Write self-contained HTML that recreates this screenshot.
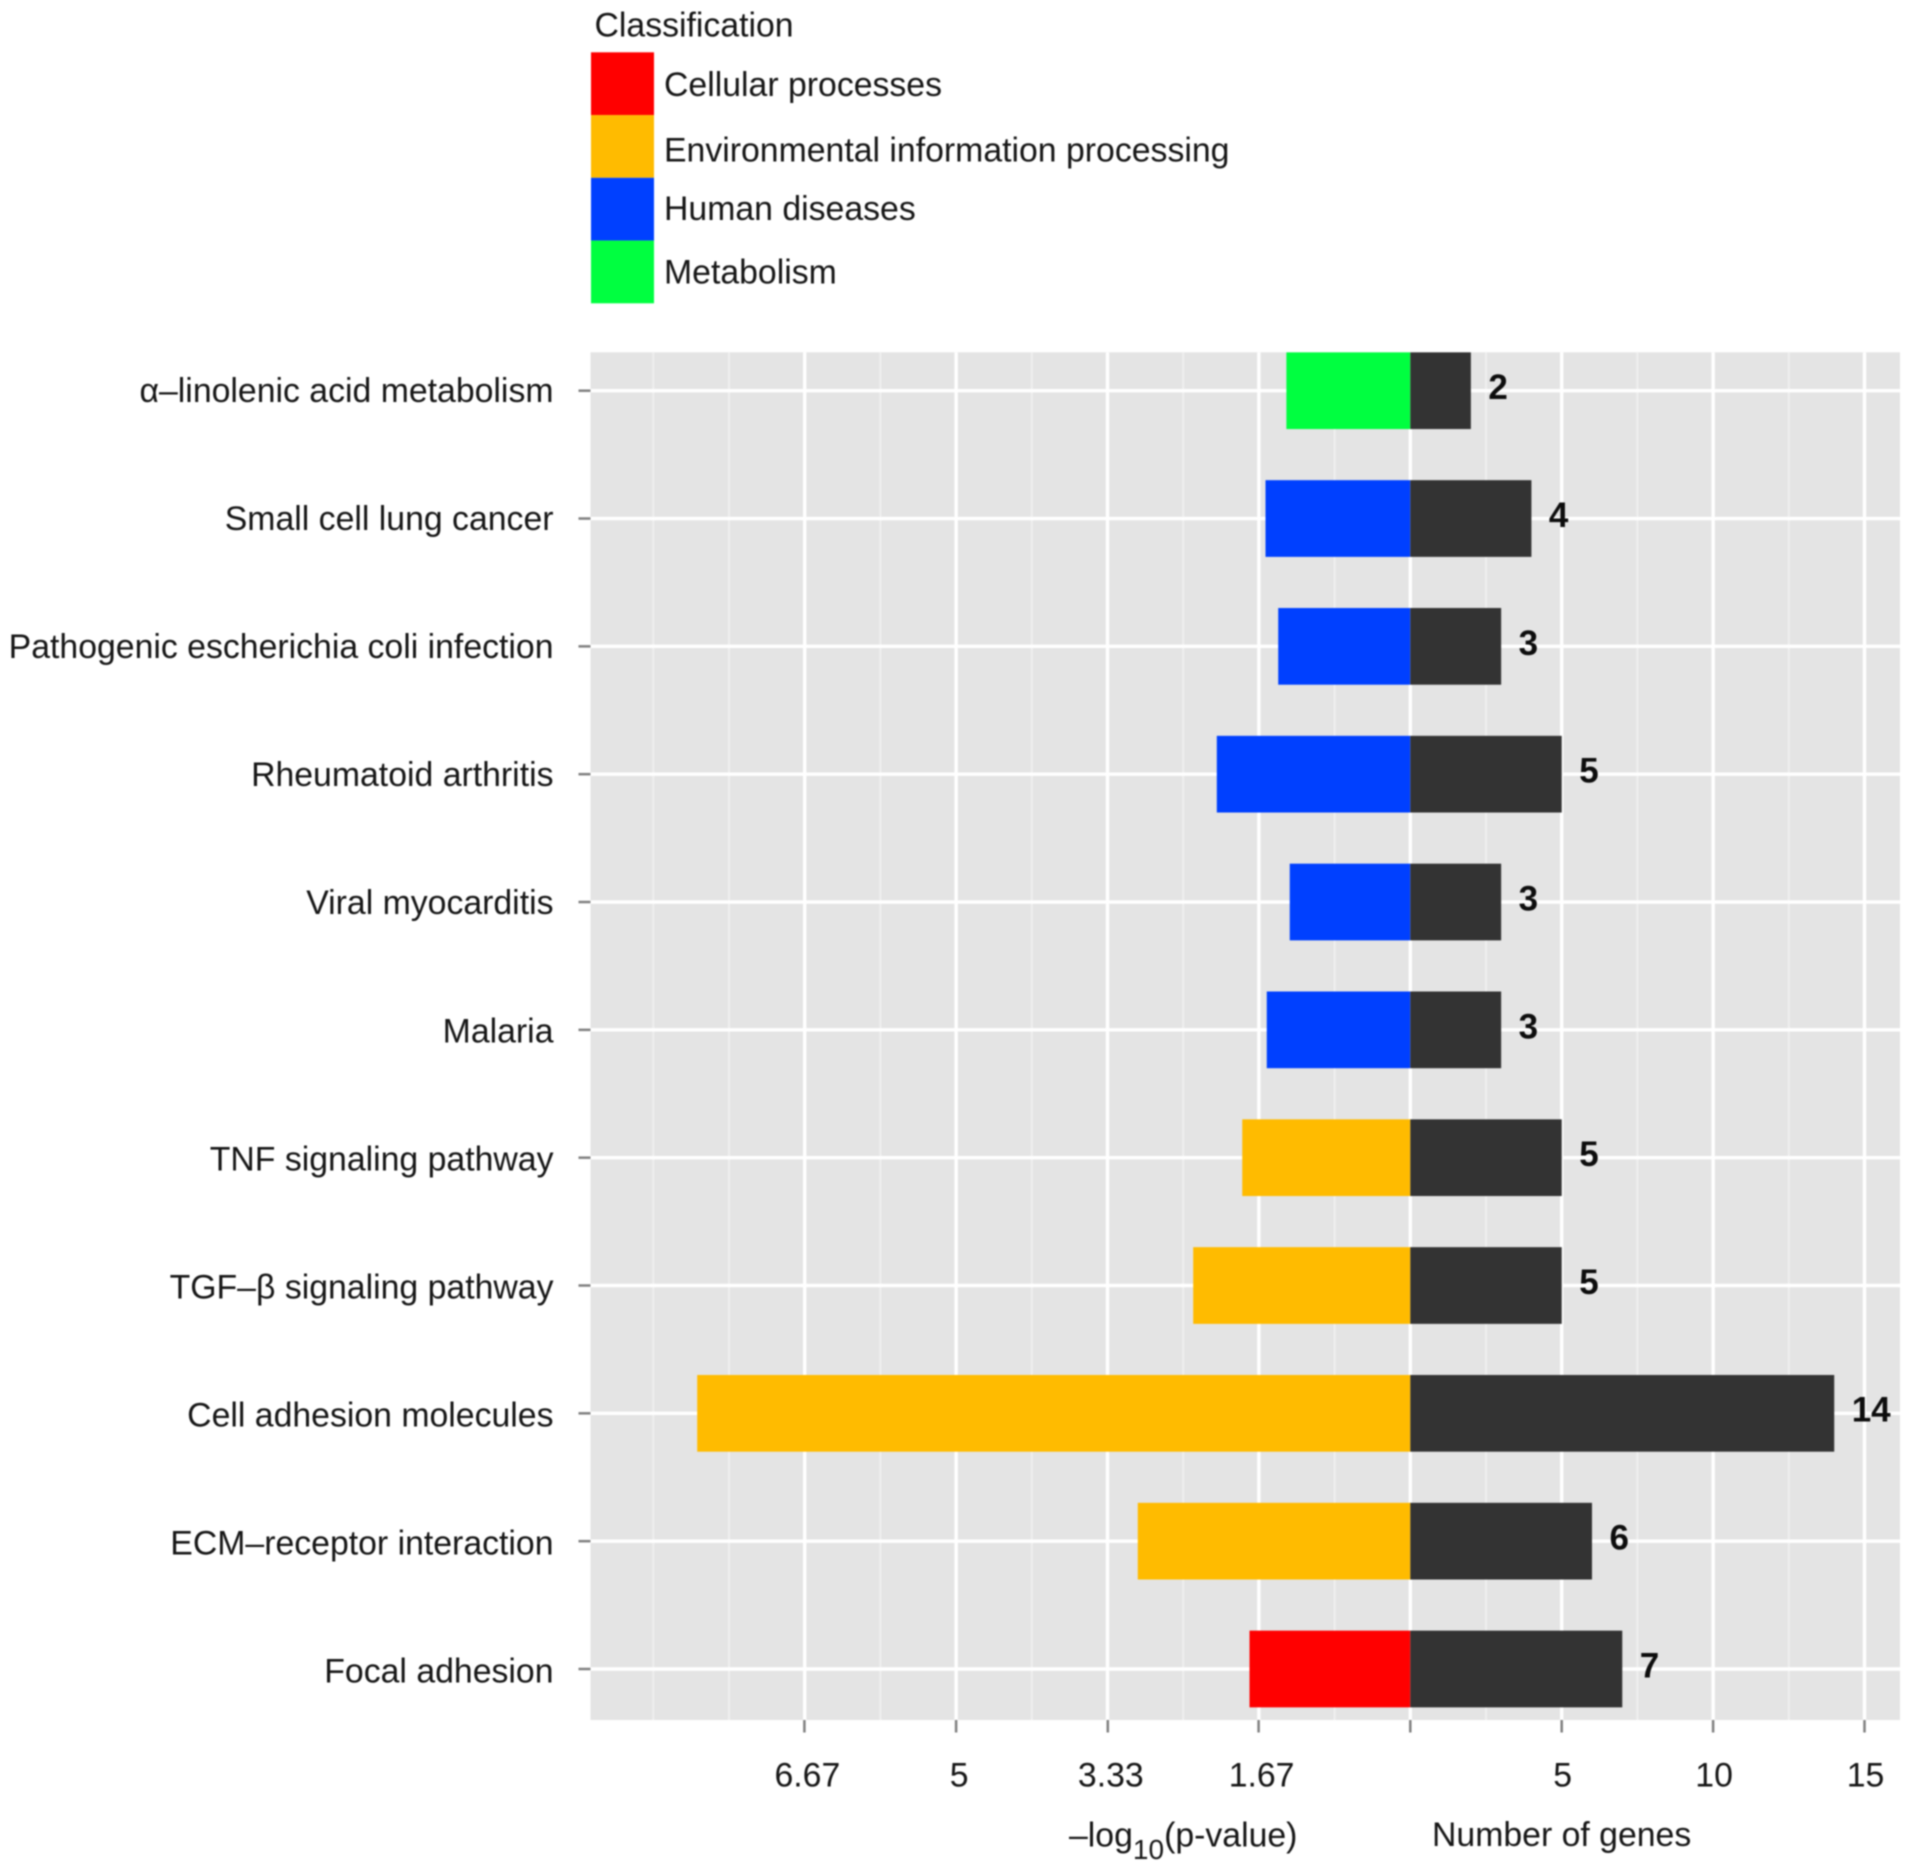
<!DOCTYPE html>
<html lang="en">
<head>
<meta charset="utf-8">
<title>KEGG pathway enrichment chart</title>
<style>
  html, body { margin: 0; padding: 0; background: #fff; }
  #chart { display: block; width: 1913px; height: 1873px; filter: blur(0.75px); font-family: "Liberation Sans", Arial, sans-serif; font-size: 33.8px; fill: #161616; }
</style>
</head>
<body>
<svg id="chart" xmlns="http://www.w3.org/2000/svg" width="1913" height="1873" viewBox="0 0 1913 1873">
  <rect x="0" y="0" width="1913" height="1873" fill="#ffffff"/>
  <rect x="590.5" y="352.3" width="1309.5" height="1367.7" fill="#e4e4e4"/>
  <g id="grid"></g>
  <g id="bars"></g>
  <g id="values"></g>
  <g id="y-axis"></g>
  <g id="x-axis"></g>
  <text x="1069" y="1846.5">–log<tspan dy="12.5" font-size="28">10</tspan><tspan dy="-12.5">(p-value)</tspan></text>
  <text x="1432" y="1846">Number of genes</text>
  <g id="legend">
    <text x="594.5" y="36.7">Classification</text>
  </g>
</svg>
<script>
const categories = ["α–linolenic acid metabolism", "Small cell lung cancer", "Pathogenic escherichia coli infection", "Rheumatoid arthritis", "Viral myocarditis", "Malaria", "TNF signaling pathway", "TGF–β signaling pathway", "Cell adhesion molecules", "ECM–receptor interaction", "Focal adhesion"];
const logPValues = [1.364, 1.594, 1.454, 2.13, 1.327, 1.58, 1.85, 2.39, 7.85, 3.00, 1.77];
const geneCounts = [2, 4, 3, 5, 3, 3, 5, 5, 14, 6, 7];
const classes = ["Metabolism", "Human diseases", "Human diseases", "Human diseases", "Human diseases", "Human diseases", "Environmental information processing", "Environmental information processing", "Environmental information processing", "Environmental information processing", "Cellular processes"];
const legendEntries = ["Cellular processes", "Environmental information processing", "Human diseases", "Metabolism"];
const legendColors = ["#ff0000", "#ffbb00", "#0040ff", "#00ff40"];
const pValueTicks = [6.67, 5, 3.33, 1.67];
const pValueTickLabels = ["6.67", "5", "3.33", "1.67"];
const geneTicks = [0, 5, 10, 15];
const geneTickLabels = ["", "5", "10", "15"];
const majorGridUnits = [-20, -15, -10, -5, 0, 5, 10, 15];
const minorGridUnits = [-25, -22.5, -17.5, -12.5, -7.5, -2.5, 2.5, 7.5, 12.5];

const SVG_NS = "http://www.w3.org/2000/svg";
const ZERO_X = 1410.3, GENE_PX = 30.28, FIRST_Y = 390.7, STEP_Y = 127.83, BAR_H = 76.7;
const PANEL = { left: 590.5, right: 1900, top: 352.3, bottom: 1720 };

function xGene(v) { return ZERO_X + v * GENE_PX; }
function xPValue(v) { return ZERO_X - v * 3 * GENE_PX; }
function yRow(i) { return FIRST_Y + i * STEP_Y; }
function make(tag, parent, props, text) {
  const el = document.createElementNS(SVG_NS, tag);
  for (const k in props) el.setAttribute(k, props[k]);
  if (text !== undefined) el.textContent = text;
  document.getElementById(parent).appendChild(el);
  return el;
}
function vLine(parent, x, y1, y2, stroke, width) {
  return make("line", parent, { x1: x, x2: x, y1: y1, y2: y2, stroke: stroke, "stroke-width": width });
}

minorGridUnits.forEach(function (u) {
  const el = vLine("grid", xGene(u), PANEL.top, PANEL.bottom, "#efefef", 2);
  
  
});
majorGridUnits.forEach(function (u) {
  const el = vLine("grid", xGene(u), PANEL.top, PANEL.bottom, "#ffffff", 3.4);
  
  
});

categories.forEach(function (name, i) {
  const y = yRow(i);
  const grid = make("line", "grid", { x1: PANEL.left, x2: PANEL.right, y1: y, y2: y, stroke: "#ffffff", "stroke-width": 3.4 });
  
  

  const tick = make("line", "y-axis", { x1: PANEL.left - 12, x2: PANEL.left, y1: y, y2: y, stroke: "#808080", "stroke-width": 2.5 });
  
  

  const label = make("text", "y-axis", { x: 553.5, y: y + 11.2 + i * 0.24, "text-anchor": "end" }, name);
  
  

  const left = xPValue(logPValues[i]);
  const pBar = make("rect", "bars", { x: left, y: y - BAR_H / 2, width: ZERO_X - left, height: BAR_H, fill: legendColors[legendEntries.indexOf(classes[i])] });
  
  

  const right = xGene(geneCounts[i]);
  const gBar = make("rect", "bars", { x: ZERO_X, y: y - BAR_H / 2, width: right - ZERO_X, height: BAR_H, fill: "#333333" });
  
  

  const val = make("text", "values", { x: right + 17.5, y: y + 8.4, "font-weight": "bold", "font-size": "35", fill: "#0d0d0d" }, String(geneCounts[i]));
  
  
});

pValueTicks.forEach(function (v, i) {
  const x = xPValue(v);
  const tick = vLine("x-axis", x, PANEL.bottom, PANEL.bottom + 12.5, "#808080", 2.5);
  
  
  const label = make("text", "x-axis", { x: x + 3, y: 1786.5, "text-anchor": "middle" }, pValueTickLabels[i]);
  
  
});
geneTicks.forEach(function (v, i) {
  const x = xGene(v);
  const tick = vLine("x-axis", x, PANEL.bottom, PANEL.bottom + 12.5, "#808080", 2.5);
  
  
  const label = make("text", "x-axis", { x: x + 1, y: 1786.5, "text-anchor": "middle" }, geneTickLabels[i]);
  
  
});

const legendBaselines = [96.2, 161.7, 219.8, 283.6];
legendEntries.forEach(function (name, i) {
  const swatch = make("rect", "legend", { x: 591, y: 52.3 + i * 62.75, width: 63, height: 62.75, fill: legendColors[i] });
  
  
  const label = make("text", "legend", { x: 664, y: legendBaselines[i] }, name);
  
  
});
</script>
</body>
</html>
